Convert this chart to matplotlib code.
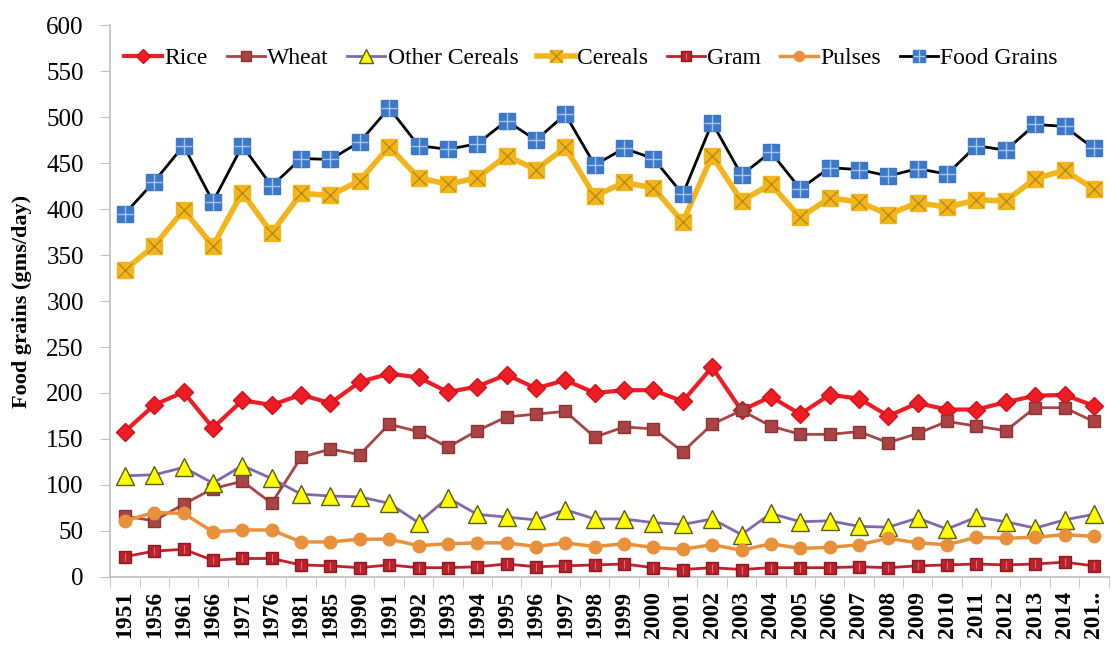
import numpy as np
import matplotlib
matplotlib.use("Agg")
import matplotlib.pyplot as plt
from matplotlib.legend_handler import HandlerTuple

years = ['1951', '1956', '1961', '1966', '1971', '1976', '1981', '1985', '1990',
         '1991', '1992', '1993', '1994', '1995', '1996', '1997', '1998', '1999',
         '2000', '2001', '2002', '2003', '2004', '2005', '2006', '2007', '2008',
         '2009', '2010', '2011', '2012', '2013', '2014', '201..']

rice = [158, 187, 201, 162, 192, 187, 198, 189, 212, 221, 217, 201, 207, 220, 205,
        214, 200, 203, 203, 191, 228, 181, 196, 177, 198, 194, 175, 189, 182, 182,
        190, 197, 198, 186]
wheat = [66, 61, 79, 96, 104, 80, 130, 139, 133, 166, 158, 141, 159, 174, 177,
         180, 152, 163, 161, 136, 166, 181, 164, 155, 155, 158, 146, 156, 169, 164,
         159, 184, 184, 169]
other_cereals = [110, 111, 119, 102, 121, 107, 90, 88, 87, 80, 59, 86, 68, 65, 62,
                 73, 63, 63, 59, 57, 63, 46, 69, 60, 61, 55, 54, 64, 52, 65,
                 60, 53, 62, 68]
cereals = [334, 360, 399, 360, 418, 374, 417, 415, 431, 468, 434, 427, 434, 458, 443,
           467, 414, 429, 423, 386, 458, 409, 427, 391, 412, 408, 394, 407, 402, 410,
           409, 433, 442, 422]
gram = [22, 28, 30, 18, 20, 20, 13, 12, 10, 13, 10, 10, 11, 14, 11,
        12, 13, 14, 10, 8, 10, 8, 10, 10, 10, 11, 10, 12, 13, 14,
        13, 14, 16, 12]
pulses = [61, 70, 69, 49, 51, 51, 38, 38, 41, 41, 34, 36, 37, 37, 33,
          37, 33, 36, 32, 30, 35, 29, 36, 31, 32, 35, 42, 37, 35, 43,
          42, 43, 46, 44]
food_grains = [395, 430, 469, 408, 469, 425, 455, 454, 473, 510, 469, 465, 471, 496, 475,
               503, 448, 466, 455, 416, 494, 437, 462, 422, 445, 443, 436, 444, 438, 469,
               464, 492, 490, 466]

plt.rcParams['font.family'] = ['Liberation Serif', 'DejaVu Serif']

fig = plt.figure(figsize=(11.13, 6.46), dpi=100)
ax = fig.add_axes([0.099, 0.107, 0.897, 0.854])
x = np.arange(len(years))

h_rice, = ax.plot(x, rice, color='#ee1c24', lw=3, marker='D', ms=9,
                  mfc='#ee1c24', mec='#d01018', zorder=3)
h_wheat, = ax.plot(x, wheat, color='#a84444', lw=2, marker='s', ms=9,
                   mfc='#a84444', mec='#8c3432', zorder=3)
h_other, = ax.plot(x, other_cereals, color='#8068b0', lw=2, marker='^', ms=13,
                   mfc='#ffff00', mec='#5a5a1a', mew=1, zorder=3)
h_cer, = ax.plot(x, cereals, color='#f2b51c', lw=4, marker='s', ms=11,
                 mfc='#f2b51c', mec='#f2b51c', zorder=4)
h_cer_x, = ax.plot(x, cereals, ls='none', marker='x', ms=10, mec='#b88a14',
                   mew=1, zorder=5)
h_gram, = ax.plot(x, gram, color='#c0202a', lw=2, marker='s', ms=9,
                  mfc='#b8222c', mec='#8e1a20', zorder=3)
h_gram_i, = ax.plot(x, gram, ls='none', marker='|', ms=6, mec='#e07070',
                    mew=0.8, zorder=3.5)
h_pul, = ax.plot(x, pulses, color='#e8913a', lw=2.5, marker='o', ms=9,
                 mfc='#e8913a', mec='#e8913a', zorder=3)
h_food, = ax.plot(x, food_grains, color='black', lw=2, marker='s', ms=11,
                  mfc='#3c78c8', mec='#3c78c8', zorder=4)
h_food_p, = ax.plot(x, food_grains, ls='none', marker='+', ms=11, mec='#a8c4ec',
                    mew=1, zorder=5)

ax.set_xlim(-0.5, len(years) - 0.5)
ax.set_ylim(0, 600)
ax.set_yticks(np.arange(0, 601, 50))
ax.tick_params(axis='y', labelsize=18, length=7, color='#bfbfbf', pad=12)

ax.set_xticks(x)
ax.set_xticklabels(years, rotation=90, fontsize=17, fontweight='bold')
ax.set_xticks(np.arange(-0.5, len(years), 1), minor=True)
ax.tick_params(axis='x', which='major', length=0, pad=10)
ax.tick_params(axis='x', which='minor', length=8, color='#bfbfbf')

for side in ['top', 'right']:
    ax.spines[side].set_visible(False)
for side in ['left', 'bottom']:
    ax.spines[side].set_color('#bfbfbf')
    ax.spines[side].set_linewidth(1.2)

ax.set_ylabel('Food grains (gms/day)', fontsize=16, fontweight='bold', labelpad=10)

handles = [h_rice, h_wheat, h_other, (h_cer, h_cer_x), (h_gram, h_gram_i),
           h_pul, (h_food, h_food_p)]
labels = ['Rice', 'Wheat', 'Other Cereals', 'Cereals', 'Gram', 'Pulses', 'Food Grains']
ax.legend(handles, labels, loc='upper left', bbox_to_anchor=(0.0, 0.985), ncol=7,
          frameon=False, fontsize=17, handlelength=1.6, handletextpad=0.1,
          columnspacing=0.8, borderaxespad=0.2, markerscale=0.8,
          handler_map={tuple: HandlerTuple(ndivide=1)})

fig.savefig('out.png', dpi=100)
